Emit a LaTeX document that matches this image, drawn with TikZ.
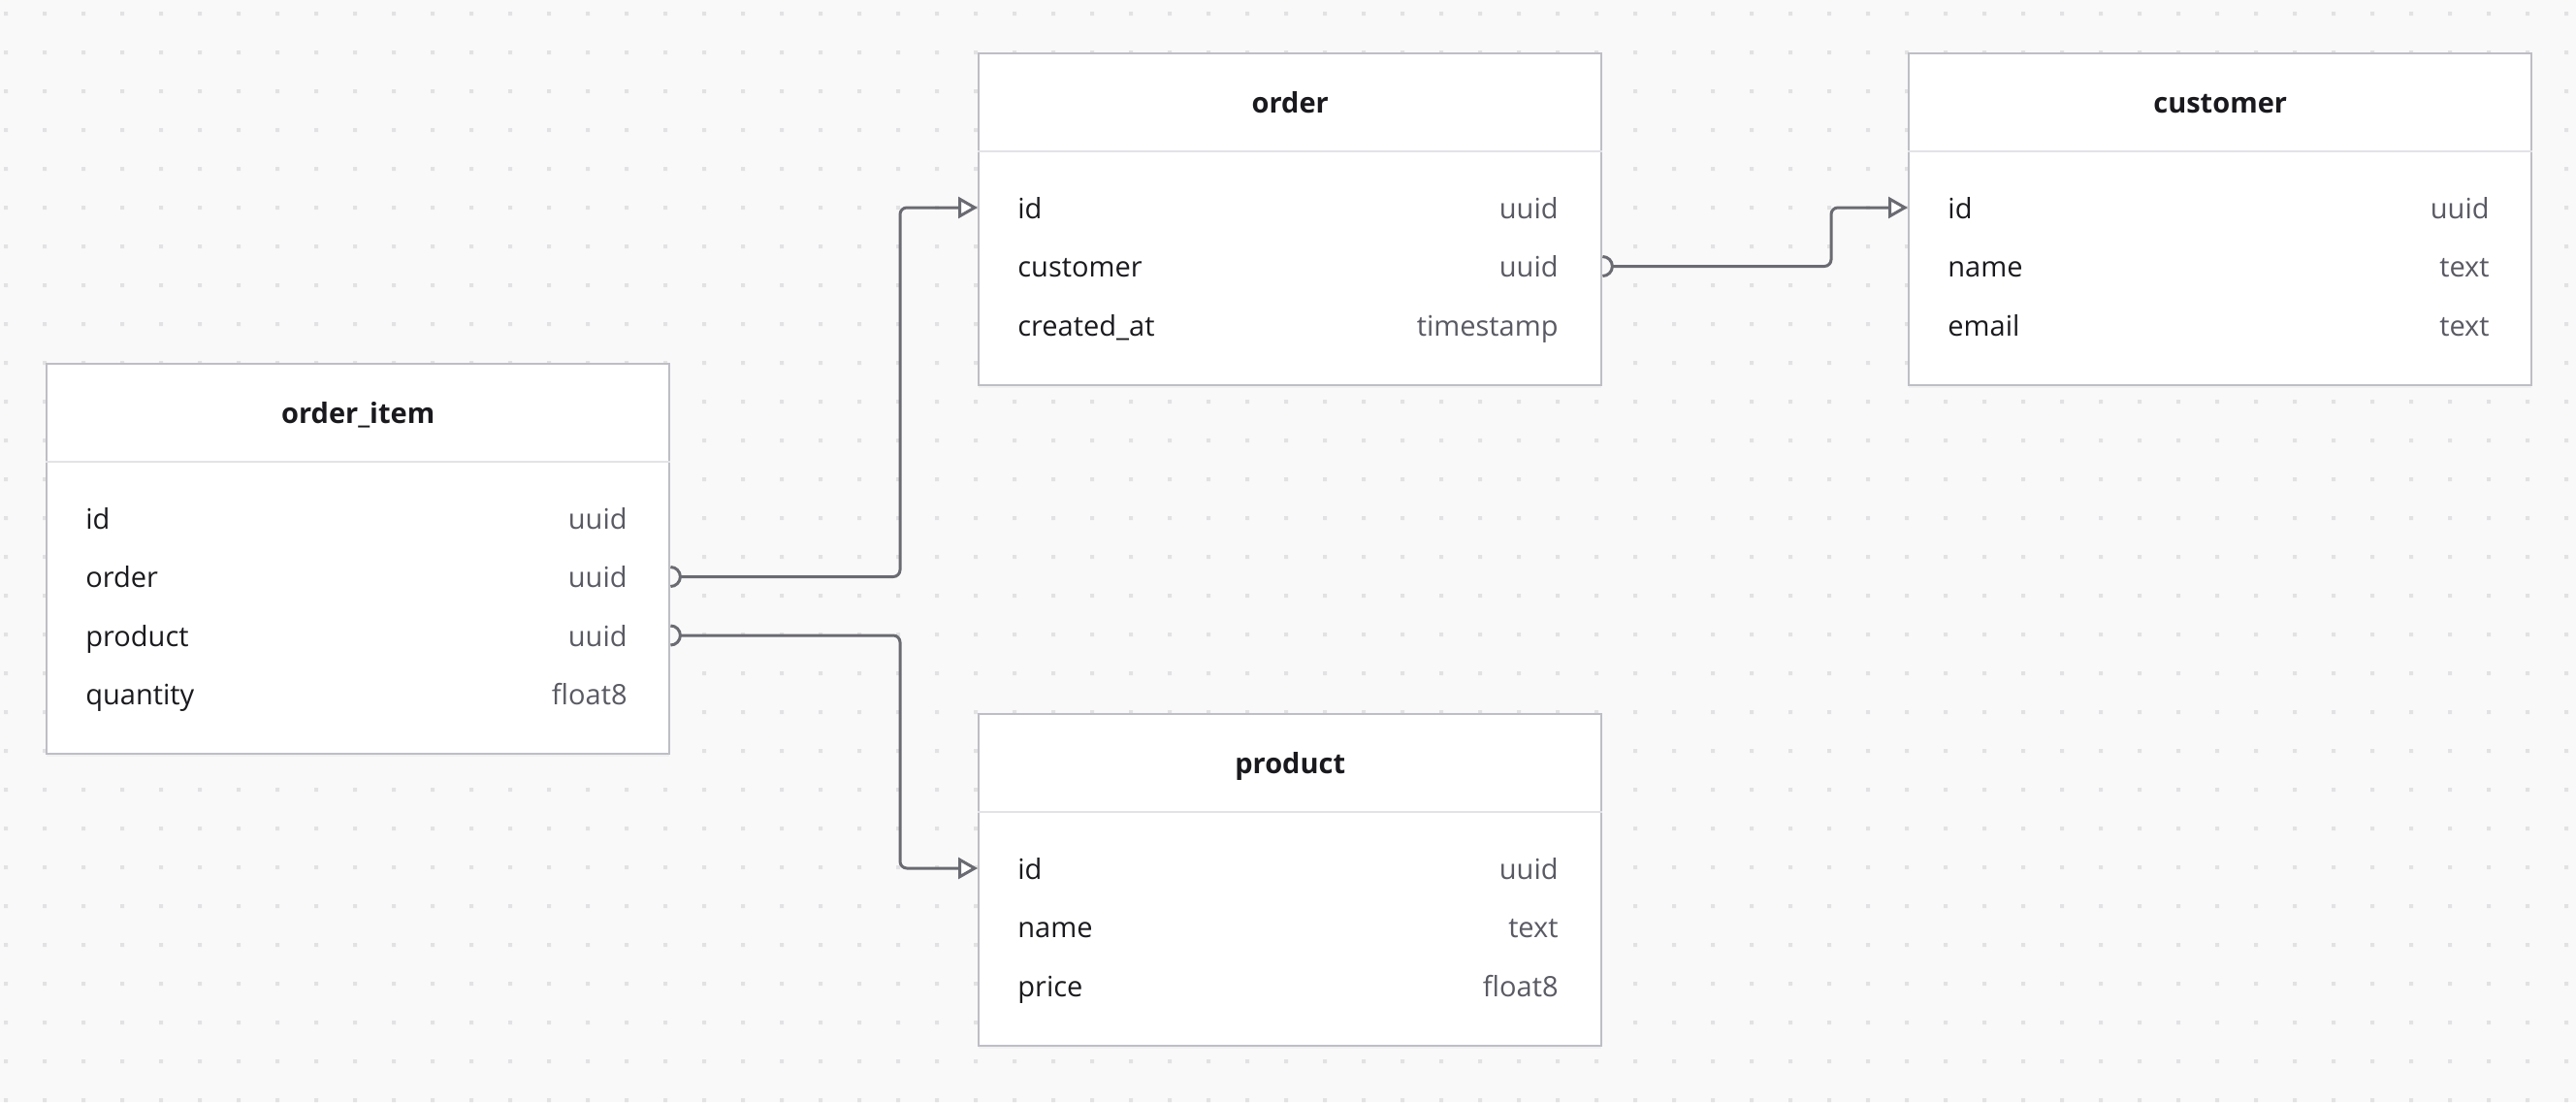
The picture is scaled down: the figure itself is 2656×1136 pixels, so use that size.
\documentclass[tikz,border=0pt]{standalone}
\usepackage{fontspec}
\setmainfont{Open Sans}
\usetikzlibrary{arrows.meta,shadows}
\definecolor{bgc}{HTML}{F9F9F9}
\definecolor{dotc}{HTML}{E2E2E4}
\definecolor{borderc}{HTML}{BEBEC6}
\definecolor{sepc}{HTML}{E3E3E7}
\definecolor{namec}{HTML}{1A1A1E}
\definecolor{typec}{HTML}{5A5A64}
\definecolor{linkc}{HTML}{6A6A72}

\begin{document}
\begin{tikzpicture}[x=0.5pt, y=-0.5pt,
    tablebox/.style={draw=borderc, line width=1.2pt, fill=white, minimum width=321pt,
        inner sep=0pt, anchor=north west,
        drop shadow={opacity=0.06, shadow xshift=0pt, shadow yshift=-1.5pt}},
    tabtitle/.style={font=\fontsize{14.5}{16}\selectfont\bfseries, text=namec,
        inner sep=0pt, text height=11pt, text depth=0pt},
    colname/.style={font=\fontsize{14.5}{16}\selectfont, text=namec, anchor=west,
        inner sep=0pt, text height=11pt, text depth=0pt},
    coltype/.style={colname, text=typec, anchor=east},
    headsep/.style={draw=sepc, line width=1.2pt},
    link/.style={draw=linkc, line width=1.5pt, rounded corners=3.5pt},
    fk/.style={link, -{Triangle[open, length=10pt, width=11pt, fill=white]}}]

    % canvas
    \useasboundingbox (0,0) rectangle (2656,1136);
    \fill[bgc] (0,0) rectangle (2656,1136);
    \fill[dotc] foreach \i in {0,...,66} {foreach \j in {0,...,28}
        {({4+40*\i},{12+40*\j}) rectangle ++(4,4)}};

    % tables
    \node[tablebox, minimum height=201pt] (order_item) at (47,374) {};
    \node[tablebox, minimum height=171pt] (order) at (1008,54) {};
    \node[tablebox, minimum height=171pt] (customer) at (1967,54) {};
    \node[tablebox, minimum height=171pt] (product) at (1008,735) {};

    \foreach \t in {order_item, order, customer, product} {
        \draw[headsep] ([yshift=-51pt]\t.north west) -- ([yshift=-51pt]\t.north east);
    }

    \node[tabtitle] at ([yshift=-25.5pt]order_item.north) {order\_item};
    \node[tabtitle] at ([yshift=-25.5pt]order.north) {order};
    \node[tabtitle] at ([yshift=-25.5pt]customer.north) {customer};
    \node[tabtitle] at ([yshift=-25.5pt]product.north) {product};

    % columns
    \foreach \f/\ty [count=\k] in {id/uuid, order/uuid, product/uuid, quantity/float8} {
        \node[colname] (oi-\k) at (88,{534+60.5*(\k-1)}) {\f};
        \node[coltype] at (647,{534+60.5*(\k-1)}) {\ty};
    }
    \foreach \f/\ty [count=\k] in {id/uuid, customer/uuid, created\_at/timestamp} {
        \node[colname] (or-\k) at (1049,{214+60.5*(\k-1)}) {\f};
        \node[coltype] at (1607,{214+60.5*(\k-1)}) {\ty};
    }
    \foreach \f/\ty [count=\k] in {id/uuid, name/text, email/text} {
        \node[colname] (cu-\k) at (2008,{214+60.5*(\k-1)}) {\f};
        \node[coltype] at (2567,{214+60.5*(\k-1)}) {\ty};
    }
    \foreach \f/\ty [count=\k] in {id/uuid, name/text, price/float8} {
        \node[colname] (pr-\k) at (1049,{895+60.5*(\k-1)}) {\f};
        \node[coltype] at (1607,{895+60.5*(\k-1)}) {\ty};
    }

    % relations
    \coordinate (oi-order-out) at (order_item.east |- oi-2);
    \coordinate (oi-product-out) at (order_item.east |- oi-3);
    \coordinate (or-customer-out) at (order.east |- or-2);
    \coordinate (or-id-in) at (order.west |- or-1);
    \coordinate (pr-id-in) at (product.west |- pr-1);
    \coordinate (cu-id-in) at (customer.west |- cu-1);
    \coordinate (bendA) at (928,0);
    \coordinate (bendB) at (1888,0);

    \foreach \c in {oi-order-out, oi-product-out, or-customer-out} {
        \draw[link] (\c) ++(0,-10) arc[start angle=-90, end angle=90, radius=10];
    }
    \draw[fk] ([xshift=5pt]oi-order-out) -| (bendA |- or-id-in) -- (or-id-in);
    \draw[fk] ([xshift=5pt]oi-product-out) -| (bendA |- pr-id-in) -- (pr-id-in);
    \draw[fk] ([xshift=5pt]or-customer-out) -| (bendB |- cu-id-in) -- (cu-id-in);
\end{tikzpicture}
\end{document}
